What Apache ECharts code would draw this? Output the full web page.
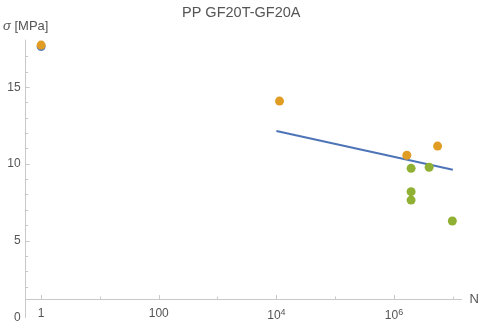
<!DOCTYPE html>
<html>
<head>
<meta charset="utf-8">
<script src="https://cdn.jsdelivr.net/npm/echarts@6/dist/echarts.min.js"></script>
<style>html,body{margin:0;padding:0;background:#fff}#c{width:482px;height:324px}</style>
</head>
<body>
<div id="c"></div>
<script>
// ---- data ----
const title = 'PP GF20T-GF20A';
const blueN = [1];
const blueS = [17.65];
const orangeN = [1, 1.13e4, 1.65e6, 5.5e6];
const orangeS = [17.75, 14.1, 10.57, 11.17];
const greenN = [1.95e6, 3.95e6, 1.95e6, 1.95e6, 9.8e6];
const greenS = [9.72, 9.79, 8.2, 7.65, 6.29];
const fitN = [1e4, 1e7];
const fitS = [12.15, 9.63];
const xMajorTicks = [1, 100, 1e4, 1e6];
const xMajorLabels = ['1', '100', '10{sup|4}', '10{sup|6}'];
const xMinorTicks = [10, 1000, 1e5, 1e7];
const yMajorTicks = [5, 10, 15];
const yLabelValues = [0, 5, 10, 15];
const yMinorTicks = [2, 3, 4, 6, 7, 8, 9, 11, 12, 13, 14, 16, 17];

const zip = (a, b) => a.map((v, i) => [v, b[i]]);
const axisCol = '#c9c9c9';
const txtCol = '#555555';
const font = 'Liberation Sans, Arial, sans-serif';
const xMin = 0.5466, xMax = 1.409e7, yMin = 0, yMax = 18.08;

const chart = echarts.init(document.getElementById('c'), null, {renderer: 'canvas'});
chart.setOption({
  animation: false,
  textStyle: {fontFamily: font},
  title: {text: title, left: 177, top: 0,
    textStyle: {fontSize: 14.5, fontWeight: 'normal', color: txtCol, fontFamily: font}},
  grid: {left: 24, right: 20, top: 40, bottom: 6.5, containLabel: false},
  xAxis: [{
    type: 'log', logBase: 10, min: xMin, max: xMax, position: 'bottom', offset: -18.5,
    name: 'N', nameLocation: 'end', nameGap: 8,
    nameTextStyle: {color: txtCol, fontSize: 13, fontFamily: font},
    axisLine: {show: true, onZero: false, lineStyle: {color: axisCol, width: 1}},
    axisTick: {show: true, inside: true, length: 4, customValues: xMajorTicks, lineStyle: {color: axisCol}},
    axisLabel: {show: true, customValues: xMajorTicks, margin: 9, color: txtCol, fontSize: 12, fontFamily: font,
      formatter: v => { const i = xMajorTicks.findIndex(t => Math.abs(Math.log10(t) - Math.log10(v)) < 1e-6); return i >= 0 ? xMajorLabels[i] : ''; },
      rich: {sup: {fontSize: 9, color: txtCol, verticalAlign: 'bottom', padding: [0, 0, 7, 0], fontFamily: font}}},
    splitLine: {show: false}, minorTick: {show: false}, minorSplitLine: {show: false}
  }, {
    type: 'log', logBase: 10, min: xMin, max: xMax, position: 'bottom', offset: -18.5,
    axisLine: {show: false, onZero: false},
    axisTick: {show: true, inside: true, length: 2.5, customValues: xMinorTicks, lineStyle: {color: axisCol}},
    axisLabel: {show: false}, splitLine: {show: false}
  }],
  yAxis: [{
    type: 'value', min: yMin, max: yMax, position: 'left',
    name: '{i|σ} [MPa]', nameLocation: 'end', nameGap: 7,
    nameTextStyle: {color: txtCol, fontSize: 13, fontFamily: font, rich: {i: {fontStyle: 'italic', fontSize: 13, color: txtCol, fontFamily: font}}},
    axisLine: {show: true, onZero: false, lineStyle: {color: axisCol, width: 1}},
    axisTick: {show: true, inside: true, length: 4, customValues: yMajorTicks, lineStyle: {color: axisCol}},
    axisLabel: {show: true, customValues: yLabelValues, margin: 5, color: txtCol, fontSize: 12, fontFamily: font},
    splitLine: {show: false}
  }, {
    type: 'value', min: yMin, max: yMax, position: 'left',
    axisLine: {show: false, onZero: false},
    axisTick: {show: true, inside: true, length: 2.5, customValues: yMinorTicks, lineStyle: {color: axisCol}},
    axisLabel: {show: false}, splitLine: {show: false}
  }],
  series: [
    {type: 'line', data: zip(fitN, fitS), xAxisIndex: 0, yAxisIndex: 0, showSymbol: false, symbol: 'none',
      lineStyle: {color: '#4E74B8', width: 2}, z: 2},
    {type: 'scatter', data: zip(blueN, blueS), symbolSize: 9, itemStyle: {color: '#5E81B5', opacity: 1}, z: 3},
    {type: 'scatter', data: zip(orangeN, orangeS), symbolSize: 9, itemStyle: {color: '#E19C24', opacity: 1}, z: 4},
    {type: 'scatter', data: zip(greenN, greenS), symbolSize: 9, itemStyle: {color: '#8FB032', opacity: 1}, z: 5}
  ]
});
</script>
</body>
</html>
